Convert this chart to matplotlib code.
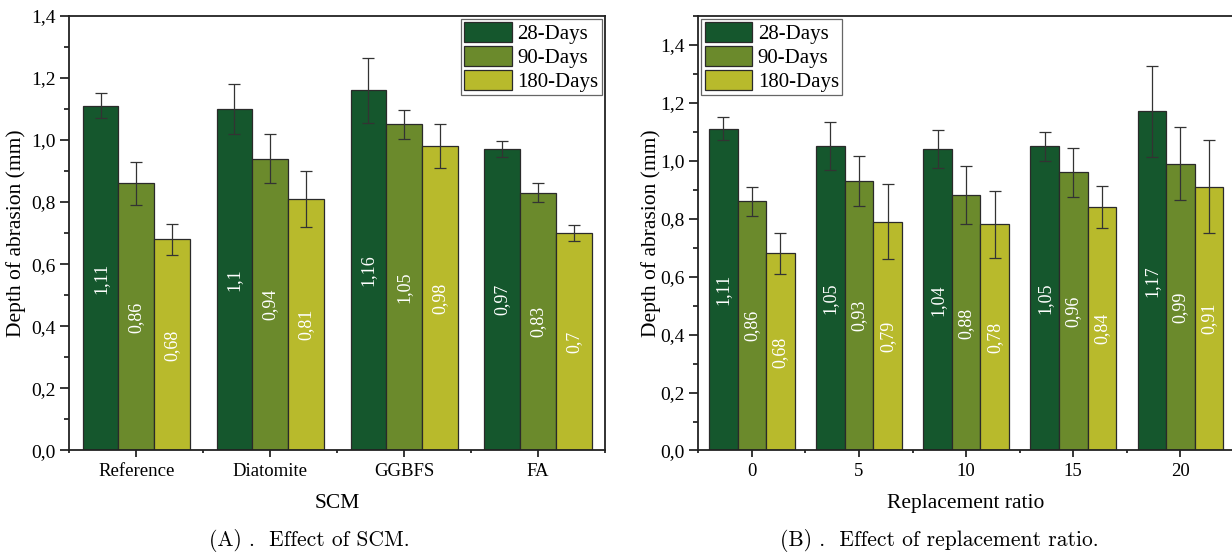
import numpy as np
import matplotlib
matplotlib.use("Agg")
import matplotlib.pyplot as plt
from matplotlib.ticker import FuncFormatter, MultipleLocator, FixedLocator

plt.rcParams['font.family'] = ['Liberation Serif', 'DejaVu Serif']

# ---------------- DATA ----------------
series_names = ["28-Days", "90-Days", "180-Days"]

scm_labels = ["Reference", "Diatomite", "GGBFS", "FA"]
scm_28 = [1.11, 1.10, 1.16, 0.97]
scm_90 = [0.86, 0.94, 1.05, 0.83]
scm_180 = [0.68, 0.81, 0.98, 0.70]
scm_err_28 = [0.04, 0.08, 0.105, 0.025]
scm_err_90 = [0.07, 0.08, 0.047, 0.03]
scm_err_180 = [0.05, 0.09, 0.07, 0.025]

ratio_labels = ["0", "5", "10", "15", "20"]
ratio_28 = [1.11, 1.05, 1.04, 1.05, 1.17]
ratio_90 = [0.86, 0.93, 0.88, 0.96, 0.99]
ratio_180 = [0.68, 0.79, 0.78, 0.84, 0.91]
ratio_err_28 = [0.04, 0.083, 0.067, 0.05, 0.156]
ratio_err_90 = [0.05, 0.085, 0.10, 0.085, 0.127]
ratio_err_180 = [0.07, 0.13, 0.116, 0.073, 0.16]

colors = ["#15572D", "#6B8A2C", "#B8BA2C"]


def comma(v, pos=None):
    return f"{v:.1f}".replace(".", ",")


def draw_panel(ax, labels, vals, errs, xlabel, ytop, legend_loc, ylabel_x):
    x = np.arange(len(labels))
    w = 0.8 / 3
    for i, (v, e) in enumerate(zip(vals, errs)):
        pos = x + (i - 1) * w
        ax.bar(pos, v, width=w, color=colors[i], edgecolor="#2a2a2a",
               linewidth=0.9, label=series_names[i], zorder=2)
        ax.errorbar(pos, v, yerr=e, fmt="none", ecolor="#333333",
                    elinewidth=0.9, capsize=4, capthick=0.9, zorder=3)
        for p, val in zip(pos, v):
            ax.text(p, val / 2, f"{val:g}".replace(".", ","), rotation=90,
                    ha="center", va="center", color="white", fontsize=13,
                    zorder=4)

    ax.set_xlim(-0.5, len(labels) - 0.5)
    ax.set_ylim(0, ytop)
    ax.set_xticks(x)
    ax.set_xticklabels(labels)
    ax.xaxis.set_minor_locator(FixedLocator(np.arange(len(labels) + 1) - 0.5))
    ax.yaxis.set_major_locator(FixedLocator(np.arange(0, 1.41, 0.2)))
    ax.yaxis.set_minor_locator(MultipleLocator(0.1))
    ax.yaxis.set_major_formatter(FuncFormatter(comma))

    ax.tick_params(axis="x", which="major", direction="out", length=5,
                   width=1.1, labelsize=13.5, pad=4)
    ax.tick_params(axis="x", which="minor", direction="out", length=2.5,
                   width=1.1)
    ax.tick_params(axis="y", which="major", direction="out", length=6.5,
                   width=1.1, labelsize=14, pad=3)
    ax.tick_params(axis="y", which="minor", direction="out", length=3.6,
                   width=1.1)
    for s in ax.spines.values():
        s.set_linewidth(1.3)
        s.set_color("#222222")

    ax.set_xlabel(xlabel, fontsize=15.5)
    ax.xaxis.label.set_va("center")
    ax.xaxis.set_label_coords(0.5, -0.121)
    ax.set_ylabel("Depth of abrasion (mm)", fontsize=15.5)
    ax.yaxis.label.set_va("center")
    ax.yaxis.set_label_coords(ylabel_x, 0.5)

    leg = ax.legend(loc=legend_loc, fontsize=15, frameon=True, fancybox=False,
                    framealpha=1, edgecolor="#666666", handlelength=2.3,
                    handleheight=1.1, labelspacing=0.1, handletextpad=0.25,
                    borderpad=0.15, borderaxespad=0.15)
    leg.get_frame().set_linewidth(0.9)


fig = plt.figure(figsize=(12.32, 5.55), dpi=100)
ax1 = fig.add_axes([0.05625, 0.1883, 0.4348, 0.7834])
ax2 = fig.add_axes([0.5668, 0.1883, 0.4348, 0.7834])

draw_panel(ax1, scm_labels, [scm_28, scm_90, scm_180],
           [scm_err_28, scm_err_90, scm_err_180], "SCM", 1.4, "upper right",
           -0.0995)
draw_panel(ax2, ratio_labels, [ratio_28, ratio_90, ratio_180],
           [ratio_err_28, ratio_err_90, ratio_err_180], "Replacement ratio",
           1.5, "upper left", -0.088)

fig.text(309 / 1232, 1 - 541 / 555, "(A) .  Effect of SCM.", family="cmr10",
         fontsize=15.5, ha="center", va="center")
fig.text(939 / 1232, 1 - 541 / 555, "(B) .  Effect of replacement ratio.",
         family="cmr10", fontsize=15.5, ha="center", va="center")

fig.savefig("out.png", dpi=100)
